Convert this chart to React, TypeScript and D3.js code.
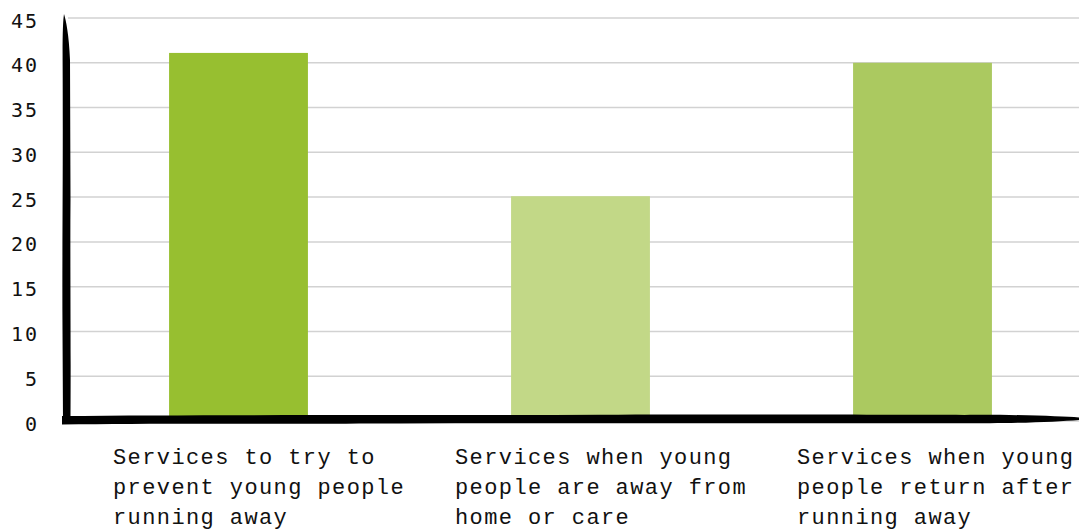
import React from "react";
import * as d3 from "d3";

const categories = [
  "Services to try to prevent young people running away",
  "Services when young people are away from home or care",
  "Services when young people return after running away",
];
const labelLines = [
  ["Services to try to", "prevent young people", "running away"],
  ["Services when young", "people are away from", "home or care"],
  ["Services when young", "people return after", "running away"],
];
const values = [41.1, 25.1, 40];
const barColors = ["#97bf30", "#c2d887", "#abc960"];
const yTicks = [0, 5, 10, 15, 20, 25, 30, 35, 40, 45];

const W = 1079;
const H = 530;

export default function App() {
  const y = d3.scaleLinear().domain([0, 45]).range([421, 18]);
  const x = d3
    .scaleBand<string>()
    .domain(categories)
    .range([67.5, 1093.5])
    .paddingInner(0.594)
    .paddingOuter(0.297);

  // hand-drawn axes as filled shapes
  const yAxisPath =
    "M64,14 C66,20 69,35 70,60 L70.5,200 C70,260 71,330 70.5,418 L63,424 L62.5,330 C62,250 63.2,180 62.6,60 C62.5,35 63,20 64,14 Z";
  const xAxisPath =
    "M62,416 C200,414.5 400,415.5 600,414.8 C800,414.2 950,415.2 1000,414.8 C1040,415.5 1065,416.5 1079,417.5 L1079,420 C1060,421.5 1030,423 990,423.2 C800,423.5 600,422.8 400,423.5 C250,424 150,423 62,424.5 Z";

  return (
    <svg
      width={W}
      height={H}
      style={{ position: "absolute", left: 0, top: 0, background: "#fff" }}
    >
      {yTicks.map((t) => (
        <line
          key={t}
          x1={68}
          x2={W}
          y1={y(t)}
          y2={y(t)}
          stroke="#d2d2d2"
          strokeWidth={1.5}
        />
      ))}
      {yTicks.map((t) => (
        <text
          key={"l" + t}
          x={39}
          y={y(t) + 4}
          textAnchor="end"
          dominantBaseline="middle"
          fontFamily="'DejaVu Sans Mono', monospace"
          fontSize={20}
          letterSpacing={2}
          fill="#111"
        >
          {t}
        </text>
      ))}
      {categories.map((c, i) => (
        <rect
          key={c}
          x={x(c)}
          y={y(values[i])}
          width={x.bandwidth()}
          height={y(0) - y(values[i])}
          fill={barColors[i]}
        />
      ))}
      <path d={yAxisPath} fill="#000" />
      <path d={xAxisPath} fill="#000" />
      {categories.map((c, i) => (
        <text
          key={"c" + i}
          fontFamily="'Liberation Mono', 'Courier New', monospace"
          fontSize={22}
          letterSpacing={1.4}
          fill="#111"
        >
          {labelLines[i].map((ln, j) => (
            <tspan key={j} x={(x(c) as number) + x.bandwidth() / 2 - 125.5} y={464 + j * 30}>
              {ln}
            </tspan>
          ))}
        </text>
      ))}
    </svg>
  );
}
